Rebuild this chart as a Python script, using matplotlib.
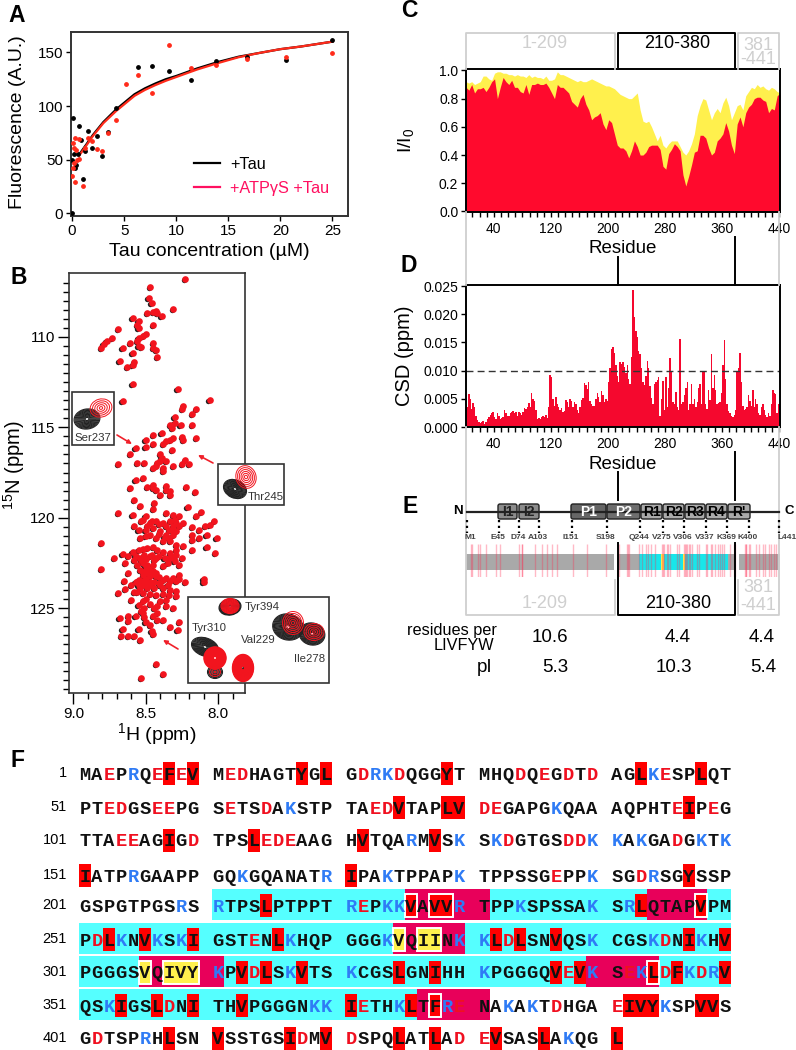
#!/usr/bin/env python3

"""
Six panel tau figure: binding curve, HSQC, intensity ratio, CSD, domains, sequence
"""

import numpy as np
import matplotlib
matplotlib.use("Agg")
import matplotlib.pyplot as plt
from matplotlib.patches import Ellipse, FancyBboxPatch, Rectangle
from matplotlib.transforms import offset_copy

plt.rcParams['font.family'] = ['Liberation Sans', 'DejaVu Sans']
plt.rcParams['mathtext.default'] = 'regular'

W, H = 796, 1050

# panel A
tau_black = [0.0, 0.06, 0.7, 0.03, 0.2, 0.4, 0.3, 0.6, 0.86, 1.09, 1.28, 1.57, 1.92, 2.36, 2.88,
             3.5, 4.25, 6.3, 7.7, 9.3, 11.4, 13.8, 16.8, 20.5, 25.0]
fluo_black = [0, 88.5, 81, 50, 55, 45, 42, 55, 68, 32, 58, 76.5, 61, 72.5, 53,
              76, 98, 136, 137, 132.5, 124, 142, 146, 142.8, 162]
tau_red = [0.0, 0.13, 0.3, 0.2, 0.4, 0.2, 0.13, 0.32, 0.5, 0.64, 0.7, 1.02, 1.28, 1.57, 1.95, 2.36,
           2.88, 3.5, 4.2, 5.2, 6.3, 7.7, 9.3, 11.4, 13.8, 16.8, 20.5, 25.0]
fluo_red = [35, 66, 70, 61, 59, 47, 42, 29, 50, 50.5, 69, 25.6, 61, 70, 67, 60,
            58, 75, 87, 120.5, 129, 112, 156.5, 135.5, 138, 144, 146, 149]
fit_tau = [0.7, 1.5, 2, 3, 4.25, 5, 6, 7, 8, 9, 10, 12, 14, 16, 18, 20, 22, 25]
fit_black = [55, 66, 73, 85, 97, 103, 111, 116.5, 121, 125, 128, 135, 141, 146, 149.5, 153, 155.5, 160]
fit_red = [54, 65, 72, 84, 95.5, 101.5, 109.5, 115, 119.5, 123.5, 127, 134, 140, 145.5, 149.5, 153, 155.5, 160]

# panel B, peak positions (1H ppm, 15N ppm)
peaks_upper = [
    (8.23, 106.81), (8.47, 107.23), (8.48, 107.86), (8.46, 108.14), (8.31, 108.47), (8.49, 108.67),
    (8.45, 108.63), (8.43, 108.58), (8.42, 108.67), (8.39, 108.86), (8.59, 108.93), (8.55, 109.13),
    (8.56, 109.35), (8.55, 109.50), (8.45, 109.34), (8.50, 109.82), (8.52, 109.96), (8.55, 110.06),
    (8.69, 109.58), (8.73, 110.06), (8.77, 110.24), (8.79, 110.37), (8.81, 110.61), (8.66, 110.61),
    (8.61, 110.33), (8.56, 110.24), (8.55, 110.52), (8.53, 110.55), (8.45, 110.33), (8.45, 110.61),
    (8.43, 110.70), (8.59, 110.89), (8.42, 111.11), (8.68, 111.35), (8.58, 111.40), (8.63, 111.68),
    (8.59, 111.53), (8.59, 112.60),
]
peaks_middle = [
    (8.28, 112.86), (8.06, 113.49), (8.66, 113.56), (8.24, 113.84), (8.25, 113.99), (8.15, 114.00),
    (8.18, 114.24), (8.30, 114.43), (8.30, 114.76), (8.33, 114.89), (8.26, 114.85), (8.18, 114.89),
    (8.32, 115.04), (8.45, 115.41), (8.39, 115.31), (8.15, 115.61), (8.25, 115.54), (8.24, 115.68),
    (8.31, 115.59), (8.33, 115.68), (8.36, 115.77), (8.38, 115.90), (8.45, 115.90), (8.50, 115.72),
    (8.57, 116.14), (8.61, 116.46), (8.50, 116.09), (8.32, 116.27), (8.40, 116.48), (8.20, 117.01),
    (8.23, 116.79), (8.25, 117.01), (8.31, 117.16), (8.36, 116.88), (8.40, 116.88), (8.43, 117.16),
    (8.45, 117.25), (8.38, 117.25), (8.38, 117.44), (8.51, 116.97), (8.56, 116.97), (8.69, 117.01),
    (8.52, 117.80), (8.57, 117.90), (8.61, 118.38), (8.49, 118.30), (8.45, 118.17), (8.43, 118.45),
    (8.36, 118.27), (8.33, 118.54), (8.40, 118.73), (8.33, 118.73), (8.22, 118.32), (8.16, 118.58),
    (8.58, 119.00), (8.54, 119.34), (8.44, 119.19), (8.45, 119.52), (8.69, 119.72), (8.59, 119.85),
    (8.21, 119.41), (8.12, 119.69), (8.15, 119.93), (8.36, 119.74), (8.31, 119.83), (8.27, 119.93),
    (8.50, 119.93), (8.52, 120.11), (8.47, 120.30), (8.43, 120.20), (8.38, 120.30), (8.33, 120.20),
    (8.29, 120.30), (8.24, 120.30), (8.58, 120.48), (8.55, 120.70), (8.50, 120.66), (8.45, 120.57),
    (8.40, 120.76), (8.36, 120.94), (8.31, 120.94), (8.29, 120.76), (8.18, 120.54), (8.13, 120.66),
    (8.09, 120.48), (8.06, 120.39), (8.03, 120.20), (8.08, 120.94), (8.01, 121.13), (8.13, 121.13),
    (8.18, 120.94), (8.18, 121.22), (8.29, 121.49), (8.33, 121.31), (8.38, 121.31), (8.43, 121.13),
    (8.50, 121.03), (8.54, 121.13), (8.81, 121.42), (8.08, 121.62), (8.02, 121.97), (8.18, 121.81),
]
peaks_lower = [
    (8.66, 121.99), (8.62, 122.14), (8.59, 121.92), (8.55, 121.81), (8.52, 121.73), (8.49, 121.68),
    (8.45, 121.62), (8.42, 121.77), (8.38, 121.92), (8.33, 121.96), (8.29, 121.77), (8.24, 121.59),
    (8.33, 122.23), (8.30, 122.42), (8.25, 122.23), (8.27, 122.60), (8.43, 122.23), (8.46, 122.05),
    (8.51, 122.05), (8.54, 122.23), (8.58, 122.32), (8.72, 122.23), (8.64, 122.51), (8.52, 122.51),
    (8.49, 122.60), (8.45, 122.60), (8.38, 122.69), (8.27, 123.15), (8.81, 122.84), (8.62, 123.06),
    (8.54, 122.88), (8.50, 122.88), (8.45, 122.97), (8.52, 123.15), (8.47, 123.25), (8.43, 123.25),
    (8.38, 123.43), (8.33, 123.52), (8.29, 123.52), (8.23, 123.56), (8.10, 123.38), (8.10, 123.54),
    (8.55, 123.43), (8.52, 123.52), (8.49, 123.62), (8.65, 123.52), (8.60, 123.71), (8.54, 123.89),
    (8.49, 123.89), (8.44, 123.89), (8.38, 123.89), (8.33, 123.98), (8.29, 124.08), (8.69, 124.17),
    (8.64, 123.93), (8.58, 124.13), (8.60, 124.54), (8.52, 124.63), (8.55, 124.82), (8.51, 125.00),
    (8.53, 125.18), (8.44, 125.00), (8.42, 124.91), (8.36, 124.91), (8.31, 125.00), (8.36, 124.54),
    (8.29, 124.35), (8.42, 125.28), (8.68, 125.57), (8.62, 125.46), (8.57, 125.42), (8.62, 125.74),
    (8.50, 125.79), (8.47, 125.92), (8.45, 125.46), (8.42, 125.65), (8.38, 125.65), (8.27, 125.77),
    (8.33, 126.07), (8.28, 126.20), (8.66, 126.14), (8.55, 126.16), (8.46, 126.29), (8.45, 126.42),
    (8.67, 126.57), (8.62, 126.53), (8.58, 126.53), (8.54, 126.75), (8.43, 128.10), (8.38, 128.63),
    (8.53, 128.87),
]
peaks_dense = [
    (8.57, 122.10), (8.56, 122.60), (8.53, 122.35), (8.50, 122.30), (8.47, 122.10), (8.44, 122.35),
    (8.41, 122.10), (8.37, 122.25), (8.35, 122.50), (8.31, 122.20), (8.29, 122.05), (8.50, 122.70),
    (8.48, 122.85), (8.52, 123.00), (8.49, 123.05), (8.46, 123.10), (8.43, 123.05), (8.41, 123.30),
    (8.36, 123.35), (8.31, 123.35), (8.27, 123.40), (8.50, 123.40), (8.47, 123.55), (8.44, 123.55),
    (8.41, 123.60), (8.57, 123.55), (8.55, 123.70), (8.52, 123.75), (8.47, 123.75), (8.40, 123.75),
    (8.35, 123.70), (8.56, 124.10), (8.52, 124.15), (8.47, 124.20), (8.43, 124.30), (8.38, 124.20),
    (8.34, 124.30), (8.50, 124.50), (8.47, 124.80), (8.40, 124.60), (8.53, 120.20), (8.49, 120.45),
    (8.46, 120.20), (8.41, 120.35), (8.36, 120.45), (8.31, 120.45), (8.27, 120.45), (8.34, 120.70),
    (8.31, 120.75), (8.37, 121.05), (8.34, 121.10), (8.41, 120.90), (8.47, 120.95), (8.30, 120.15),
    (8.42, 117.00), (8.39, 116.70), (8.45, 118.35), (8.36, 118.45), (8.52, 125.30), (8.51, 125.50),
]

# panel C, one value every four residues
ratio_res = list(range(1, 442, 4))
ratio_red = [.88, .86, .90, .84, .87, .87, .88, .85, .88, .92, .94, .80, .88, .95, .92, .90, .93, .88, .88, .85,
             .84, .90, .83, .90, .90, .91, .90, .90, .91, .88, .84, .80, .90, .88, .88, .86, .84, .78, .76, .74,
             .80, .83, .76, .72, .65, .67, .68, .70, .62, .58, .65, .63, .55, .47, .45, .45, .43, .38, .43, .50,
             .46, .40, .40, .42, .46, .47, .47, .47, .44, .32, .30, .41, .44, .48, .46, .43, .26, .18, .25, .33,
             .42, .43, .54, .54, .52, .45, .40, .42, .50, .52, .55, .63, .57, .47, .41, .62, .67, .60, .70, .74,
             .76, .80, .81, .81, .79, .78, .70, .73, .72, .82, .84]
ratio_yellow = [.92, .91, .92, .90, .91, .92, .96, .96, .94, .93, .98, .99, .99, .98, .98, .97, .97, .96, .97, .96,
                .96, .95, .97, .95, .96, .95, .95, .94, .96, .93, .93, .94, .99, .97, .97, .96, .95, .94, .93, .92,
                .93, .92, .92, .93, .94, .93, .92, .91, .90, .89, .89, .88, .87, .85, .83, .82, .81, .80, .80, .82,
                .84, .72, .64, .63, .64, .60, .55, .50, .54, .47, .45, .48, .50, .50, .50, .46, .42, .40, .43, .48,
                .55, .68, .75, .80, .79, .72, .65, .70, .73, .70, .77, .81, .75, .65, .70, .75, .76, .72, .82, .85,
                .88, .87, .90, .88, .89, .87, .86, .88, .87, .85, .84]

# panel D, one value every two residues, in 1e-3 ppm
csd_values = [4.0, 3.5, 5.8, 5.0, 3.2, 4.2, 3.6, 2.0, 1.2, 0.8,
              0.7, 0.9, 1.0, 0.5, 0.9, 1.5, 1.8, 2.2, 2.4, 2.6,
              1.8, 1.5, 2.4, 2.0, 1.5, 1.6, 1.7, 3.0, 2.4, 2.0,
              2.0, 2.4, 2.6, 2.8, 2.5, 2.6, 2.0, 2.6, 2.4, 2.2,
              2.6, 3.4, 3.2, 3.5, 4.2, 3.6, 6.0, 5.0, 4.6, 3.0,
              1.4, 1.6, 1.5, 1.7, 2.0, 1.8, 2.2, 1.6, 3.5, 9.2,
              8.8, 5.0, 3.8, 5.4, 4.0, 3.5, 3.0, 3.4, 2.6, 2.8,
              4.8, 4.5, 3.5, 5.0, 4.6, 3.6, 4.4, 4.0, 3.0, 2.4,
              3.5, 4.8, 5.2, 7.8, 7.5, 6.8, 8.0, 4.6, 4.0, 3.8,
              3.8, 5.0, 6.0, 5.4, 4.4, 6.4, 5.6, 4.5, 5.0, 4.6,
              8.0, 10.5, 13.8, 14.2, 13.2, 11.0, 9.0, 8.0, 11.5, 11.2,
              11.5, 10.6, 9.5, 11.0, 8.6, 7.6, 12.5, 24.3, 19.5, 17.0,
              16.0, 13.5, 13.0, 10.5, 8.0, 7.5, 9.0, 11.8, 10.5, 7.2,
              5.2, 4.0, 7.6, 8.0, 8.4, 8.8, 2.0, 5.0, 8.2, 3.0,
              8.8, 3.5, 7.0, 12.2, 10.0, 4.5, 4.0, 6.2, 3.5, 3.0,
              15.7, 4.0, 4.5, 5.6, 7.0, 8.0, 3.0, 4.0, 7.6, 4.0,
              5.0, 3.5, 4.5, 7.0, 7.6, 4.0, 9.8, 9.8, 4.0, 3.2,
              6.5, 4.8, 13.0, 7.0, 9.2, 6.5, 4.0, 4.2, 4.5, 6.0,
              11.0, 15.5, 8.5, 4.0, 2.8, 2.4, 2.0, 1.8, 2.2, 3.0,
              10.0, 10.5, 13.2, 8.0, 3.8, 3.0, 3.2, 3.5, 5.6, 4.6,
              3.8, 6.5, 3.6, 5.0, 4.0, 2.5, 2.2, 3.5, 4.0, 3.0,
              2.2, 1.8, 2.4, 2.0, 4.0, 6.5, 6.0, 5.8, 2.4, 4.0]

# panel F
sequence = ("MAEPRQEFEVMEDHAGTYGLGDRKDQGGYTMHQDQEGDTDAGLKESPLQT"
            "PTEDGSEEPGSETSDAKSTPTAEDVTAPLVDEGAPGKQAAAQPHTEIPEG"
            "TTAEEAGIGDTPSLEDEAAGHVTQARMVSKSKDGTGSDDKKAKGADGKTK"
            "IATPRGAAPPGQKGQANATRIPAKTPPAPKTPPSSGEPPKSGDRSGYSSP"
            "GSPGTPGSRSRTPSLPTPPTREPKKVAVVRTPPKSPSSAKSRLQTAPVPM"
            "PDLKNVKSKIGSTENLKHQPGGGKVQIINKKLDLSNVQSKCGSKDNIKHV"
            "PGGGSVQIVYKPVDLSKVTSKCGSLGNIHHKPGGGQVEVKSEKLDFKDRV"
            "QSKIGSLDNITHVPGGGNKKIETHKLTFRENAKAKTDHGAEIVYKSPVVS"
            "GDTSPRHLSNVSSTGSIDMVDSPQLATLADEVSASLAKQGL")
row_labels = ["1", "51", "101", "151", "201", "251", "301", "351", "401"]
row_y = [773, 807, 840, 875, 905, 939, 972, 1005, 1038]
cyan_runs = [(211, 250), (251, 300), (301, 350), (351, 376)]
crimson_runs = [(226, 231), (244, 248), (275, 280), (306, 311), (340, 344), (377, 381)]
yellow_runs = [(275, 275), (277, 278), (306, 306), (308, 310)]
boxed_runs = [(226, 226), (228, 229), (248, 248), (344, 344), (378, 378)]

# panel E
domain_names = ["I1", "I2", "P1", "P2", "R1", "R2", "R3", "R4", "R'"]
domain_left = [498, 519, 571, 607, 641, 663, 685, 706, 728]
domain_right = [517, 539, 606, 640, 662, 684, 705, 727, 750]
domain_fill = ["#8c8c8c", "#8c8c8c", "#666666", "#6e6e6e", "#aaaaaa", "#aaaaaa", "#aaaaaa", "#aaaaaa", "#aaaaaa"]
domain_text = ["#222222", "#222222", "white", "white", "black", "black", "black", "black", "black"]
site_names = ["M1", "E45", "D74", "A103", "I151", "S198", "Q244", "V275", "V306", "V337", "K369", "K400", "L441"]
site_x = [467, 499, 519, 539, 572, 607, 640, 663, 684, 706, 727, 749, 779]
gray_bands = [(1, 209), (214, 244), (368, 378), (384, 441)]
cyan_band = (244, 368)
yellow_bands = [(274.5, 278), (304.5, 308.5)]


def axes_px(fig, left, top, right, bottom, **kw):
    return fig.add_axes([left / W, 1 - bottom / H, (right - left) / W, (bottom - top) / H], **kw)


def style_residue_axis(ax):
    ax.set_xlim(1, 441)
    ax.set_xticks(np.arange(10, 441, 10), minor=True)
    ax.set_xticks([40, 120, 200, 280, 360, 440])
    ax.tick_params(axis='x', which='both', length=3.5, width=1)
    ax.tick_params(axis='y', length=3.5, width=1, pad=2)
    ax.tick_params(labelsize=10)
    for s in ax.spines.values():
        s.set_linewidth(1.4)


def residue_x(res):
    col = (res - 1) % 50
    return 79 + 133 * (col // 10) + 12 * (col % 10)


def residue_row(res):
    return row_y[(res - 1) // 50]


def contour_blob(ax, cx, cy, w, h, angle, color, levels, lw=0.7):
    for scale in np.linspace(1, 0.15, levels):
        ax.add_patch(Ellipse((cx, cy), w * scale, h * scale, angle=angle, fill=False,
                             edgecolor=color, linewidth=lw))


fig = plt.figure(figsize=(W / 100, H / 100), dpi=100)

# A
ax_a = axes_px(fig, 71, 32, 348, 216)
ax_a.plot(fit_tau, fit_black, color='black', lw=1.6, label='+Tau')
ax_a.plot(fit_tau, fit_red, color='#ff2a1a', lw=1.6)
ax_a.scatter(tau_black, fluo_black, s=6, color='black', zorder=3)
ax_a.scatter(tau_red, fluo_red, s=6, color='#ff2a1a', zorder=3)
ax_a.plot([], [], color='#ff1060', lw=1.6, label='+ATP\u03b3S +Tau')
ax_a.set_xlim(-0.1, 26.5)
ax_a.set_ylim(-2.5, 169)
ax_a.set_xticks([0, 5, 10, 15, 20, 25])
ax_a.set_yticks([0, 50, 100, 150])
ax_a.tick_params(labelsize=11, length=3.5, width=1, pad=2)
ax_a.set_xlabel('Tau concentration (\u00b5M)', fontsize=14, labelpad=4)
ax_a.set_ylabel('Fluorescence (A.U.)', fontsize=14)
ax_a.yaxis.set_label_coords(-45 / 277, 0.51)
for s in ax_a.spines.values():
    s.set_linewidth(1.4)
    s.set_color('#333333')
ax_a.legend(loc='lower right', bbox_to_anchor=(0.985, 0.03), frameon=False, fontsize=11.7,
            labelcolor=['black', '#ff1060'], handlelength=1.6, labelspacing=0.55, handletextpad=0.6)

# B
ax_b = axes_px(fig, 69, 273, 245, 693)
peaks = peaks_upper + peaks_middle + peaks_lower + peaks_dense
peak_h = [p[0] for p in peaks]
peak_n = [p[1] for p in peaks]
black_shift = offset_copy(ax_b.transData, fig, x=-1.3, y=-1.0, units='dots')
ax_b.scatter(peak_h, peak_n, s=15, color='#222222', linewidths=0, transform=black_shift)
ax_b.scatter(peak_h, peak_n, s=23, color='#f2141e', linewidths=0)
ax_b.set_xlim(9.03, 7.815)
ax_b.set_ylim(129.7, 106.46)
ax_b.set_xticks([9.0, 8.5, 8.0])
ax_b.set_xticks(np.arange(7.9, 9.05, 0.1), minor=True)
ax_b.set_yticks([110, 115, 120, 125])
ax_b.set_yticks(np.arange(107, 130, 0.5), minor=True)
ax_b.tick_params(which='major', length=8, width=1, labelsize=11, pad=2)
ax_b.tick_params(which='minor', length=4, width=1)
ax_b.set_xlabel(r'$^{1}$H (ppm)', fontsize=14, labelpad=0)
ax_b.set_ylabel(r'$^{15}$N (ppm)', fontsize=14.5)
ax_b.yaxis.set_label_coords(-42 / 176, 0.543)
for s in ax_b.spines.values():
    s.set_linewidth(1.2)
    s.set_color('#333333')

# C
ax_c = axes_px(fig, 466, 69, 780, 212)
ax_c.fill_between(ratio_res, ratio_yellow, color='#fff04d', linewidth=0)
ax_c.fill_between(ratio_res, ratio_red, color='#ff0a2d', linewidth=0)
style_residue_axis(ax_c)
ax_c.set_ylim(-0.004, 1.01)
ax_c.set_yticks([0, .2, .4, .6, .8, 1.0])
ax_c.set_xlabel('Residue', fontsize=13.5, labelpad=3)
ax_c.set_ylabel(r'I/I$_0$', fontsize=14)
ax_c.yaxis.set_label_coords(-50 / 314, 0.5)

# D
ax_d = axes_px(fig, 466, 285, 780, 427)
csd_res = np.arange(1, 2 * len(csd_values), 2)
ax_d.bar(csd_res, np.array(csd_values) / 1000, width=2, color='#f5082e', linewidth=0)
ax_d.axhline(0.01, color='#333333', lw=1, ls=(0, (5, 3)))
style_residue_axis(ax_d)
ax_d.set_ylim(0, 0.0252)
ax_d.set_yticks([0, .005, .01, .015, .02, .025])
ax_d.set_yticklabels(['0.000', '0.005', '0.010', '0.015', '0.020', '0.025'])
ax_d.set_xlabel('Residue', fontsize=13.5, labelpad=4)
ax_d.set_ylabel('CSD (ppm)', fontsize=14.5)
ax_d.yaxis.set_label_coords(-52 / 314, 0.5)

# E barcode
ax_e = axes_px(fig, 466, 544, 780, 577)
ax_e.set_xlim(1, 441)
ax_e.set_ylim(0, 1)
ax_e.axis('off')
for lo, hi in gray_bands:
    ax_e.fill_between([lo, hi], 0.21, 0.70, color='#a9a9a9', linewidth=0)
ax_e.fill_between(cyan_band, 0.21, 0.70, color='#18e6ea', linewidth=0)
hydrophobic = [i + 1 for i, aa in enumerate(sequence) if aa in "LIVFYW"]
ax_e.vlines(hydrophobic, 0, 1, color='#ff2a50', alpha=0.32, lw=1)
for lo, hi in yellow_bands:
    ax_e.fill_between([lo, hi], 0.21, 0.70, color='#fff04d', linewidth=0)

# everything drawn in figure pixels
ov = fig.add_axes([0, 0, 1, 1], zorder=5)
ov.set_xlim(0, W)
ov.set_ylim(H, 0)
ov.axis('off')
ov.patch.set_alpha(0)

for name, x, y in [('A', 8, 22), ('B', 11, 284), ('C', 401, 17), ('D', 401, 272), ('E', 402, 513), ('F', 11, 767)]:
    ov.text(x, y, name, fontsize=16.5, fontweight='bold', va='baseline')

# insets of B
for left, top, right, bottom in [(72, 392, 114, 445), (218, 464, 284, 505), (188, 597, 329, 683)]:
    ov.add_patch(Rectangle((left, top), right - left, bottom - top, facecolor='white',
                           edgecolor='#333333', linewidth=1.2))
inset_blobs = [
    (87, 419, 26, 20, -10, '#222222', 12, 0.8), (101, 408, 22, 18, -15, '#f2141e', 5, 0.7),
    (235, 489, 24, 18, 25, '#222222', 13, 0.8), (246, 477, 20, 23, -20, '#f2141e', 6, 0.7),
    (230, 607, 22, 16, -10, '#222222', 14, 0.9), (230, 606, 18, 15, 0, '#f2141e', 9, 0.9),
    (205, 647, 28, 18, 20, '#222222', 13, 0.8), (215, 672, 15, 13, 0, '#222222', 7, 0.8),
    (215, 658, 22, 22, 0, '#f2141e', 22, 1.0), (215, 672, 11, 9, 0, '#f2141e', 3, 0.7),
    (242, 667, 16, 20, 0, '#222222', 10, 0.8), (243, 668, 21, 27, 0, '#f2141e', 22, 1.0),
    (288, 627, 31, 26, 15, '#222222', 16, 0.8), (312, 634, 26, 22, 15, '#222222', 14, 0.8),
    (293, 623, 21, 23, 0, '#f2141e', 6, 0.7), (314, 632, 20, 17, 0, '#f2141e', 5, 0.7),
]
for blob in inset_blobs:
    contour_blob(ov, *blob)
for label, x, y in [('Ser237', 93, 438), ('Thr245', 266, 497), ('Tyr394', 262, 607),
                    ('Tyr310', 209, 628), ('Val229', 258, 640), ('Ile278', 310, 659)]:
    ov.text(x, y, label, fontsize=8.2, color='#333333', ha='center', va='center')
for start, end in [((117, 435), (132, 444)), ((213, 463), (198, 455)), ((178, 649), (163, 640))]:
    ov.annotate('', xy=end, xytext=start,
                arrowprops=dict(arrowstyle='-|>', color='#f0202a', lw=1.2, mutation_scale=6, shrinkA=0, shrinkB=0))

# region brackets and guide lines
light = '#cfcfcf'
ov.plot([466, 466, 615, 615], [69, 33, 33, 69], color=light, lw=1.3)
ov.plot([738, 738, 779, 779], [69, 33, 33, 69], color=light, lw=1.3)
ov.plot([618, 618, 735, 735], [67, 33, 33, 67], color='black', lw=1.4)
ov.plot([466, 466], [212, 285], color=light, lw=1.3)
ov.plot([779, 779], [212, 285], color=light, lw=1.3)
ov.plot([466, 466, 615, 615], [427, 615, 615, 580], color=light, lw=1.3)
ov.plot([779, 779, 738, 738], [427, 615, 615, 580], color=light, lw=1.3)
ov.plot([735, 735], [237, 285], color='black', lw=1.4)
ov.plot([618, 618], [257, 285], color='black', lw=1.4)
ov.plot([735, 735], [452, 500], color='black', lw=1.4)
ov.plot([618, 618], [472, 500], color='black', lw=1.4)
ov.plot([618, 618, 735, 735], [543, 615, 615, 543], color='black', lw=1.4)
ov.text(545, 43, '1-209', fontsize=13, color=light, ha='center', va='center')
ov.text(677, 43, '210-380', fontsize=13, ha='center', va='center')
ov.text(758, 45, '381', fontsize=13, color=light, ha='center', va='center')
ov.text(758, 60, '-441', fontsize=13, color=light, ha='center', va='center')
ov.text(545, 604, '1-209', fontsize=13, color=light, ha='center', va='center')
ov.text(678, 604, '210-380', fontsize=13, ha='center', va='center')
ov.text(758, 588, '381', fontsize=13, color=light, ha='center', va='center')
ov.text(758, 605, '-441', fontsize=13, color=light, ha='center', va='center')

# E domains
ov.plot([467, 779], [512, 512], color='#222222', lw=1.6)
ov.text(458, 511, 'N', fontsize=9.5, fontweight='bold', ha='center', va='center')
ov.text(789, 511, 'C', fontsize=9.5, fontweight='bold', ha='center', va='center')
for name, left, right, fill, tcolor in zip(domain_names, domain_left, domain_right, domain_fill, domain_text):
    ov.add_patch(FancyBboxPatch((left + 1, 505), right - left - 2, 13, boxstyle='round,pad=1,rounding_size=2',
                                facecolor=fill, edgecolor='#222222', linewidth=1))
    ov.text((left + right) / 2, 512, name, fontsize=10, fontweight='bold', color=tcolor, ha='center', va='center')
for name, x in zip(site_names, site_x):
    ov.plot([x, x], [520, 533], color='black', lw=1.6, ls=(0, (1, 1.6)))
    ov.text(x - 1 if name != 'M1' else x + 3, 537.5, name, fontsize=6, fontweight='bold', color='#444444',
            ha='left' if name == 'L441' else 'center', va='center')

# E table
ov.text(497, 630, 'residues per', fontsize=11.7, ha='right', va='center')
ov.text(494, 645, 'LIVFYW', fontsize=11.7, ha='right', va='center')
ov.text(492, 667, 'pI', fontsize=13.5, ha='right', va='center')
for text, x, y in [('10.6', 550, 638), ('4.4', 678, 638), ('4.4', 762, 638),
                   ('5.3', 555, 667), ('10.3', 674, 667), ('5.4', 763, 667)]:
    ov.text(x, y, text, fontsize=13.5, ha='center', va='center')


# F
def draw_run(first, last, top, bottom, **kw):
    left = residue_x(first)
    right = residue_x(last) + 12
    y = residue_row(first)
    ov.add_patch(Rectangle((left, y + top), right - left, bottom - top, **kw))


for first, last in cyan_runs:
    draw_run(first, last, -16, 15, facecolor='#55ffff', linewidth=0)
for first, last in crimson_runs:
    draw_run(first, last, -16, 15, facecolor='#e8005a', linewidth=0)
for res, aa in enumerate(sequence, start=1):
    if aa in "LIVFYW":
        draw_run(res, res, -11.5, 11.5, facecolor='#ff0000', linewidth=0)
for first, last in yellow_runs:
    draw_run(first, last, -11.5, 11.5, facecolor='#fff04d', edgecolor='white', linewidth=1.4)
for first, last in boxed_runs:
    draw_run(first, last, -11.5, 11.5, facecolor='#ff0000', edgecolor='white', linewidth=1.4)

aa_colors = {'D': '#f01020', 'E': '#f01020', 'K': '#2f7bf5', 'R': '#2f7bf5'}
for res, aa in enumerate(sequence, start=1):
    ov.text(residue_x(res) + 6, residue_row(res) + 6.5, aa, fontsize=13.5, fontweight='bold',
            family='Liberation Mono', color=aa_colors.get(aa, '#111111'), ha='center', va='baseline')
for label, y in zip(row_labels, row_y):
    ov.text(67, y, label, fontsize=10.5, ha='right', va='center')

fig.savefig('out.png', dpi=100)
